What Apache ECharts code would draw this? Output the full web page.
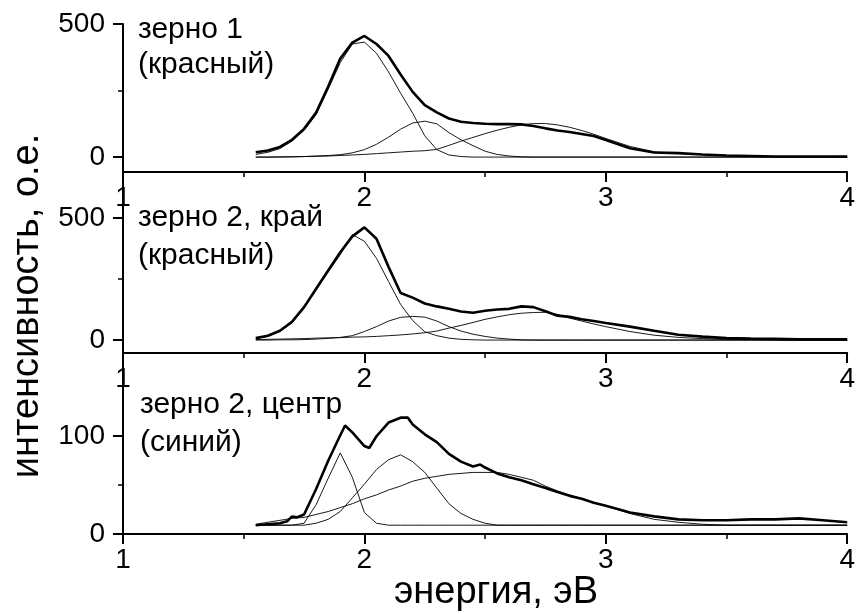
<!DOCTYPE html>
<html>
<head>
<meta charset="utf-8">
<script src="https://cdn.jsdelivr.net/npm/echarts@6/dist/echarts.min.js"></script>
<style>
html,body{margin:0;padding:0;background:#fff;}
#c{width:858px;height:614px;}
</style>
</head>
<body>
<div id="c"></div>
<script>
// ---- data ----
const energy = [1.55,1.60,1.65,1.70,1.75,1.80,1.85,1.90,1.95,2.00,2.05,2.10,2.15,2.20,2.25,2.30,2.35,2.40,2.45,2.50,2.55,2.60,2.65,2.70,2.75,2.80,2.85,2.90,2.95,3.00,3.10,3.20,3.30,3.40,3.50,3.60,3.70,3.80,3.90,4.00];
const xTicks = [1, 2, 3, 4];

// panel 1: зерно 1 (красный)
const g1Measured = [18,25,38,65,106,167,265,370,430,455,425,380,310,245,195,168,145,133,128,125,124,124,123,117,108,100,94,87,79,64,33,17,15,10,6,4,2,2,2,2];
const g1PeakA = [10,18,32,60,100,160,255,355,425,432,390,320,240,165,80,28,8,2,0,0,0,0,0,0,0,0,0,0,0,0,0,0,0,0,0,0,0,0,0,0];
const g1PeakB = [0,0,0,1,2,4,6,9,16,28,48,75,105,128,135,125,92,65,43,22,10,4,1,0,0,0,0,0,0,0,0,0,0,0,0,0,0,0,0,0];
const g1PeakC = [0,0,1,1,2,3,4,6,8,10,13,16,19,22,24,29,44,60,74,88,101,112,121,126,126,121,112,100,86,70,40,20,14,9,5,3,2,1,1,0];

// panel 2: зерно 2, край (красный)
const g2Measured = [8,18,38,75,135,210,285,360,425,462,415,300,193,174,150,138,128,117,112,120,125,128,138,135,118,100,95,85,78,70,55,38,22,14,8,6,5,3,3,3];
const g2PeakA = [6,15,35,70,130,205,280,350,432,405,335,240,146,80,34,18,8,3,1,0,0,0,0,0,0,0,0,0,0,0,0,0,0,0,0,0,0,0,0,0];
const g2PeakB = [0,0,1,1,2,4,7,11,18,35,55,78,93,97,94,78,55,37,24,15,8,4,1,0,0,0,0,0,0,0,0,0,0,0,0,0,0,0,0,0];
const g2PeakC = [2,3,4,5,6,8,9,10,12,13,15,18,21,25,30,37,49,60,72,85,95,104,110,113,114,105,90,78,66,55,35,20,11,6,3,2,1,0,0,0];

// panel 3: зерно 2, центр (синий)
const e3Measured = [1.55,1.60,1.65,1.68,1.70,1.72,1.75,1.80,1.85,1.90,1.92,1.95,2.00,2.02,2.05,2.10,2.15,2.18,2.20,2.25,2.30,2.35,2.40,2.45,2.48,2.50,2.55,2.60,2.65,2.70,2.75,2.80,2.85,2.90,2.95,3.00,3.10,3.20,3.30,3.40,3.50,3.60,3.70,3.80,3.90,4.00];
const g3Measured = [9,10,11,13,18,17,20,46,75,101,111,104,90,88,100,114,119,119,112,102,94,82,74,69,71,68,62,58,55,51,47,43,39,36,32,29,22,18,15,14,14,15,15,16,14,12];
const g3PeakA = [9,9,9,9,11,30,57,83,58,22,11,9,9,9,9,9,9,9,9,9,9,9,9,9,9,9,9,9,9,9,9,9,9,9,9,9,9,9,9,9];
const g3PeakB = [9,9,9,9,9,11,15,23,37,51,66,76,81,74,63,47,31,21,15,11,9,9,9,9,9,9,9,9,9,9,9,9,9,9,9,9,9,9,9,9];
const g3PeakC = [10,12,14,16,17,20,23,27,31,36,40,45,49,54,57,59,61,62,63,63,63,61,58,55,49,44,40,36,32,29,21,15,12,10,9,9,9,9,9,9];

const yLabels1 = [0, 500], yMinor1 = [250];
const yLabels2 = [0, 500], yMinor2 = [250];
const yLabels3 = [0, 100], yMinor3 = [50];

const panelText = [
  ['зерно 1', '(красный)'],
  ['зерно 2, край', '(красный)'],
  ['зерно 2, центр', '(синий)']
];
const xTitle = 'энергия, эВ';
const yTitle = 'интенсивность, о.е.';

// ---- chart ----
const FONT = 'Liberation Sans, Arial, sans-serif';
const pair = (xs, ys) => xs.map((x, i) => [x, ys[i]]);

const grids = [
  {left: 123, right: 6, top: 24, height: 148},
  {left: 123, right: 6, top: 180, height: 173},
  {left: 123, right: 6, top: 360, height: 174}
];
const yRanges = [[-56, 500], [-53, 656], [0, 178]];
const yLab = [yLabels1, yLabels2, yLabels3];
const yMin = [yMinor1, yMinor2, yMinor3];

const axisLine = {show: true, onZero: false, lineStyle: {color: '#000', width: 2}};

const xAxes = grids.map((g, i) => ({
  type: 'value', gridIndex: i, min: 1, max: 4, interval: 1,
  axisLine: axisLine,
  axisTick: {show: true, length: 10, lineStyle: {color: '#000', width: 2}, customValues: xTicks},
  minorTick: {show: true, splitNumber: 2, length: 5, lineStyle: {color: '#000', width: 1.5}},
  axisLabel: {color: '#000', fontSize: 28, fontFamily: FONT, margin: 12, customValues: xTicks},
  splitLine: {show: false}, minorSplitLine: {show: false}
}));

const yAxes = [];
grids.forEach((g, i) => {
  yAxes.push({
    type: 'value', gridIndex: i, position: 'left', min: yRanges[i][0], max: yRanges[i][1],
    axisLine: axisLine,
    axisTick: {show: true, length: 10, lineStyle: {color: '#000', width: 2}, customValues: yLab[i]},
    axisLabel: {color: '#000', fontSize: 28, fontFamily: FONT, margin: 18, customValues: yLab[i]},
    splitLine: {show: false}
  });
  yAxes.push({
    type: 'value', gridIndex: i, position: 'left', min: yRanges[i][0], max: yRanges[i][1],
    axisLine: {show: false},
    axisTick: {show: true, length: 5, lineStyle: {color: '#000', width: 1.5}, customValues: yMin[i]},
    axisLabel: {show: false},
    splitLine: {show: false}
  });
});

function line(data, xi, yi, thick) {
  return {
    type: 'line', xAxisIndex: xi, yAxisIndex: yi, data: data,
    showSymbol: false, symbol: 'none', smooth: false, silent: true,
    lineStyle: {color: '#000', width: thick ? 2.6 : 0.9},
    z: thick ? 3 : 2
  };
}

const series = [
  line(pair(energy, g1PeakA), 0, 0, false),
  line(pair(energy, g1PeakB), 0, 0, false),
  line(pair(energy, g1PeakC), 0, 0, false),
  line(pair(energy, g1Measured), 0, 0, true),
  line(pair(energy, g2PeakA), 1, 2, false),
  line(pair(energy, g2PeakB), 1, 2, false),
  line(pair(energy, g2PeakC), 1, 2, false),
  line(pair(energy, g2Measured), 1, 2, true),
  line(pair(energy, g3PeakA), 2, 4, false),
  line(pair(energy, g3PeakB), 2, 4, false),
  line(pair(energy, g3PeakC), 2, 4, false),
  line(pair(e3Measured, g3Measured), 2, 4, true)
];

const textPos = [[138, 30, 65], [138, 218, 256], [140, 405, 443]];
const graphic = [];
panelText.forEach((lines, i) => {
  lines.forEach((t, j) => {
    graphic.push({
      type: 'text', x: textPos[i][0], y: textPos[i][1 + j], z: 10,
      style: {text: t, fill: '#000', fontSize: 30, fontFamily: FONT, textAlign: 'left', textVerticalAlign: 'middle'}
    });
  });
});
graphic.push({
  type: 'text', x: 496, y: 593, z: 10,
  style: {text: xTitle, fill: '#000', fontSize: 38, fontFamily: FONT, textAlign: 'center', textVerticalAlign: 'middle'}
});
graphic.push({
  type: 'text', x: 28, y: 306, rotation: Math.PI / 2, z: 10,
  style: {text: yTitle, fill: '#000', fontSize: 38, fontFamily: FONT, textAlign: 'center', textVerticalAlign: 'middle'}
});

const chart = echarts.init(document.getElementById('c'), null, {renderer: 'canvas'});
chart.setOption({
  animation: false,
  backgroundColor: '#fff',
  grid: grids,
  xAxis: xAxes,
  yAxis: yAxes,
  series: series,
  graphic: graphic
});
</script>
</body>
</html>
